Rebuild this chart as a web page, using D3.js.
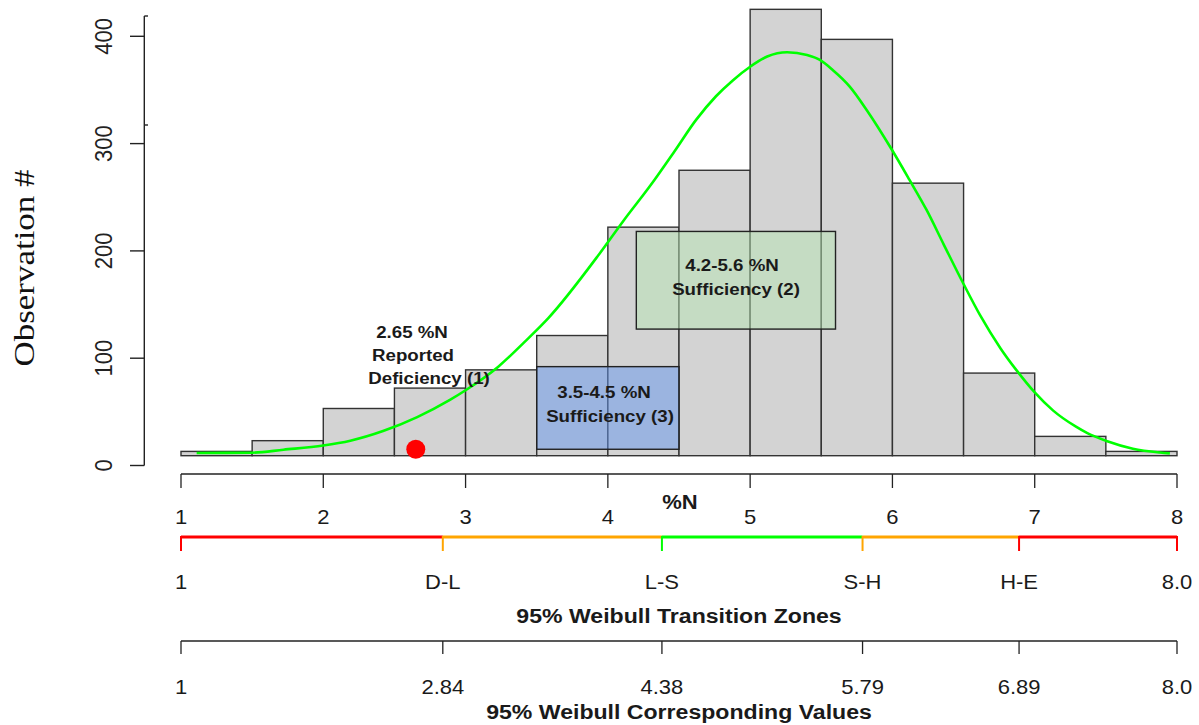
<!DOCTYPE html>
<html>
<head>
<meta charset="utf-8">
<script src="https://cdn.jsdelivr.net/npm/d3@7"></script>
<style>
  html, body { margin: 0; padding: 0; background: #fff; }
  svg { display: block; }
  text { font-family: "Liberation Sans", Arial, sans-serif; }
</style>
</head>
<body>
<svg id="chart" width="1199" height="725"></svg>
<script>
// ---------------- data ----------------
const binEdges = [1.0, 1.5, 2.0, 2.5, 3.0, 3.5, 4.0, 4.5, 5.0, 5.5, 6.0, 6.5, 7.0, 7.5, 8.0];
const binCounts = [4, 14, 44, 63, 80, 112, 213, 266, 416, 388, 254, 77, 18, 4];

const curveX = [1.11, 1.50, 1.72, 2.00, 2.19, 2.42, 2.66, 2.89, 3.00, 3.23, 3.43, 3.58, 3.94, 4.11, 4.30, 4.47, 4.62, 4.76, 4.88, 5.00, 5.12, 5.26, 5.40, 5.49, 5.58, 5.70, 5.82, 5.99, 6.12, 6.24, 6.36, 6.50, 6.62, 6.76, 6.87, 7.00, 7.13, 7.29, 7.37, 7.51, 7.69, 7.88, 7.95];
const curveY = [2.5, 2.8, 5.6, 9.5, 14, 23, 36, 52, 61, 83, 108, 128, 188, 219, 252, 284, 313, 335, 350, 362.5, 372, 376, 373.4, 368.8, 359.5, 344, 322, 286.5, 257, 229, 197, 160, 130, 100, 80, 59, 42, 27, 21, 13.5, 6.5, 3, 2.2];

const yTicks = [0, 100, 200, 300, 400];
const xTicks = [1, 2, 3, 4, 5, 6, 7, 8];
const zoneBreaks = [1, 2.84, 4.38, 5.79, 6.89, 8];
const zoneLabels = ["1", "D-L", "L-S", "S-H", "H-E", "8.0"];
const zoneColors = ["#ff0000", "#ffa500", "#00ff00", "#ffa500", "#ff0000"];
const zoneTickColors = ["#ff0000", "#ffa500", "#00ff00", "#ffa500", "#ff0000", "#ff0000"];
const valueLabels = ["1", "2.84", "4.38", "5.79", "6.89", "8.0"];

// annotation boxes: [x0, x1, y0, y1]
const blueBox = [3.5, 4.5, 6, 83];
const greenBox = [4.2, 5.6, 118, 209];
const deficiencyPoint = [2.65, 6];

const deficiencyText = ["2.65 %N", "Reported", "Deficiency (1)"];
const box2Text = ["4.2-5.6 %N", "Sufficiency (2)"];
const box3Text = ["3.5-4.5 %N", "Sufficiency (3)"];

// ---------------- scales ----------------
const svg = d3.select("#chart");
const x = d3.scaleLinear().domain([1, 8]).range([181, 1177]);
const y = d3.scaleLinear().domain([0, 400]).range([455.7, 26.5]);     // plotting region
const yAxisS = d3.scaleLinear().domain([0, 400]).range([465.5, 36.3]); // drawn axis

const SX = 1.1; // horizontal stretch of text in reference

function label(g, str, px, py, opts = {}) {
  return g.append("text")
    .attr("transform", `translate(${px},${py}) scale(${SX},1)`)
    .attr("text-anchor", opts.anchor || "middle")
    .attr("font-size", opts.size || 20)
    .attr("font-weight", opts.bold ? "bold" : "normal")
    .attr("fill", opts.fill || "#1a1a1a")
    .text(str);
}

// ---------------- histogram ----------------
const bins = binCounts.map((c, i) => ({ x0: binEdges[i], x1: binEdges[i + 1], c }));
svg.append("g").selectAll("rect").data(bins).join("rect")
  .attr("x", d => x(d.x0))
  .attr("y", d => y(d.c))
  .attr("width", d => x(d.x1) - x(d.x0))
  .attr("height", d => y(0) - y(d.c))
  .attr("fill", "#d3d3d3")
  .attr("stroke", "#333")
  .attr("stroke-width", 1.4);

// ---------------- boxes ----------------
function box(b, fill) {
  svg.append("rect")
    .attr("x", x(b[0])).attr("y", y(b[3]))
    .attr("width", x(b[1]) - x(b[0])).attr("height", y(b[2]) - y(b[3]))
    .attr("fill", fill)
    .attr("stroke", "#222").attr("stroke-width", 1.4);
}
box(blueBox, "rgba(100,149,237,0.5)");
box(greenBox, "rgba(184,230,180,0.5)");

// ---------------- curve ----------------
const pts = curveX.map((v, i) => [v, curveY[i]]);
svg.append("path")
  .datum(pts)
  .attr("d", d3.line().x(d => x(d[0])).y(d => y(d[1])).curve(d3.curveMonotoneX))
  .attr("fill", "none")
  .attr("stroke", "#00ff00")
  .attr("stroke-width", 2.6);

// ---------------- point ----------------
svg.append("circle")
  .attr("cx", x(deficiencyPoint[0])).attr("cy", y(deficiencyPoint[1]))
  .attr("r", 9.5).attr("fill", "#ff0000");

// ---------------- annotations ----------------
const ann = svg.append("g");
label(ann, deficiencyText[0], 412, 338, { size: 17, bold: true });
label(ann, deficiencyText[1], 413, 361, { size: 17, bold: true });
label(ann, deficiencyText[2], 429, 384, { size: 17, bold: true });
label(ann, box2Text[0], 732, 271, { size: 17, bold: true });
label(ann, box2Text[1], 736, 294.5, { size: 17, bold: true });
label(ann, box3Text[0], 604, 398, { size: 17, bold: true });
label(ann, box3Text[1], 610, 422, { size: 17, bold: true });

// ---------------- y axis ----------------
const ya = svg.append("g").attr("stroke", "#222").attr("stroke-width", 1.4);
ya.append("line").attr("x1", 144.3).attr("x2", 144.3).attr("y1", 16).attr("y2", yAxisS(0));
ya.append("line").attr("x1", 144.3).attr("x2", 148).attr("y1", 16).attr("y2", 16);
ya.append("line").attr("x1", 144.3).attr("x2", 148).attr("y1", 125).attr("y2", 125);
ya.selectAll("line.t").data(yTicks).join("line").attr("class", "t")
  .attr("x1", 130).attr("x2", 144.3)
  .attr("y1", d => yAxisS(d)).attr("y2", d => yAxisS(d));
svg.append("g").selectAll("text").data(yTicks).join("text")
  .attr("transform", d => `translate(112,${yAxisS(d)}) scale(${SX},1) rotate(-90)`)
  .attr("text-anchor", "middle")
  .attr("font-size", 22)
  .attr("fill", "#222")
  .text(d => d);

svg.append("text")
  .attr("transform", "translate(34,268) rotate(-90)")
  .attr("text-anchor", "middle")
  .style("font-family", "'Liberation Serif', 'Times New Roman', serif")
  .attr("font-size", 30)
  .attr("textLength", 197)
  .attr("lengthAdjust", "spacingAndGlyphs")
  .attr("fill", "#111")
  .text("Observation #");

// ---------------- bottom axis 1 (%N) ----------------
const a1 = svg.append("g").attr("stroke", "#222").attr("stroke-width", 1.3);
a1.append("line").attr("x1", x(1)).attr("x2", x(8)).attr("y1", 474).attr("y2", 474);
a1.selectAll("line.t").data(xTicks).join("line").attr("class", "t")
  .attr("x1", d => x(d)).attr("x2", d => x(d)).attr("y1", 474).attr("y2", 488);
const a1t = svg.append("g");
xTicks.forEach(d => label(a1t, String(d), x(d), 524, { size: 20 }));
label(a1t, "%N", 680, 509, { size: 20, bold: true });

// ---------------- zone axis ----------------
const zg = svg.append("g");
zoneColors.forEach((c, i) => {
  zg.append("line")
    .attr("x1", x(zoneBreaks[i])).attr("x2", x(zoneBreaks[i + 1]))
    .attr("y1", 537).attr("y2", 537)
    .attr("stroke", c).attr("stroke-width", 3);
});
zoneBreaks.forEach((b, i) => {
  zg.append("line")
    .attr("x1", x(b)).attr("x2", x(b)).attr("y1", 536).attr("y2", 551)
    .attr("stroke", zoneTickColors[i]).attr("stroke-width", 2);
});
zoneBreaks.forEach((b, i) => label(zg, zoneLabels[i], x(b), 589, { size: 20 }));
label(zg, "95% Weibull Transition Zones", 679, 622.5, { size: 21, bold: true });

// ---------------- value axis ----------------
const vg = svg.append("g");
const vga = vg.append("g").attr("stroke", "#222").attr("stroke-width", 1.3);
vga.append("line").attr("x1", x(1)).attr("x2", x(8)).attr("y1", 641).attr("y2", 641);
zoneBreaks.forEach(b => {
  vga.append("line").attr("x1", x(b)).attr("x2", x(b)).attr("y1", 641).attr("y2", 654);
});
zoneBreaks.forEach((b, i) => label(vg, valueLabels[i], x(b), 694, { size: 20 }));
label(vg, "95% Weibull Corresponding Values", 679, 718.5, { size: 21, bold: true });
</script>
</body>
</html>
